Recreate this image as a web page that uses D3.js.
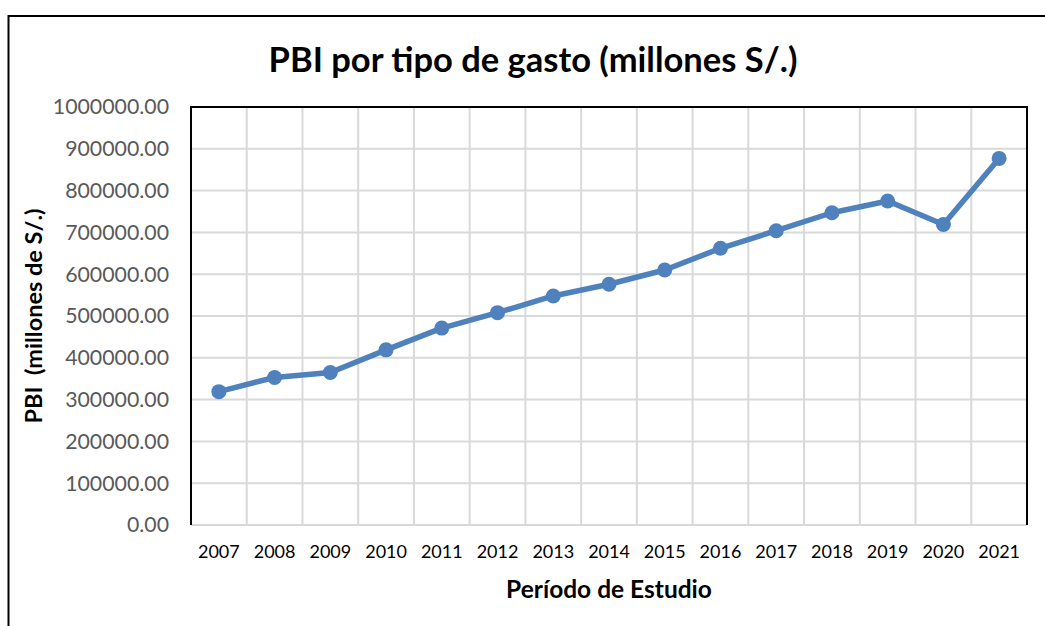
<!DOCTYPE html>
<html>
<head>
<meta charset="utf-8">
<script src="https://cdn.jsdelivr.net/npm/d3@7"></script>
<style>
  html, body { margin: 0; padding: 0; background: #fff; overflow: hidden; }
  text { font-family: Lato, "Open Sans", sans-serif; }
</style>
</head>
<body>
<div id="chart"></div>
<script>
// chart values
var years = ['2007', '2008', '2009', '2010', '2011', '2012', '2013', '2014',
  '2015', '2016', '2017', '2018', '2019', '2020', '2021'];
var pbi = [319000, 353000, 365000, 419000, 471000, 508000, 548000, 576000,
  610000, 662000, 704000, 747000, 775000, 719000, 877000];
var yTicks = [0, 100000, 200000, 300000, 400000, 500000, 600000, 700000, 800000, 900000, 1000000];

var chartTitle = 'PBI por tipo de gasto (millones S/.)';
var yTitle = 'PBI  (millones de S/.)';
var xTitle = 'Período de Estudio';

var width = 1045, height = 626;
var plot = { left: 191, top: 107, right: 1027, bottom: 525 };

var svg = d3.select('#chart').append('svg')
  .attr('width', width)
  .attr('height', height);

// outer chart frame (runs off the right and bottom of the picture)
svg.append('rect')
  .attr('x', 8.5)
  .attr('y', 16)
  .attr('width', width + 20)
  .attr('height', height + 20)
  .attr('fill', '#fff')
  .attr('stroke', '#000')
  .attr('stroke-width', 2);

var x = d3.scaleBand()
  .domain(years)
  .range([plot.left, plot.right]);

var y = d3.scaleLinear()
  .domain([0, 1000000])
  .range([plot.bottom, plot.top]);

var grid = svg.append('g').attr('class', 'grid');

grid.selectAll('line.h')
  .data(yTicks.slice(1))
  .enter().append('line')
  .attr('class', 'h')
  .attr('x1', plot.left)
  .attr('x2', plot.right)
  .attr('y1', function(d) { return y(d); })
  .attr('y2', function(d) { return y(d); })
  .attr('stroke', '#d9d9d9')
  .attr('stroke-width', 2);

grid.selectAll('line.v')
  .data(years.slice(1))
  .enter().append('line')
  .attr('class', 'v')
  .attr('x1', function(d) { return x(d); })
  .attr('x2', function(d) { return x(d); })
  .attr('y1', plot.top)
  .attr('y2', plot.bottom)
  .attr('stroke', '#d9d9d9')
  .attr('stroke-width', 2);

// x axis line (gray) and plot-area frame (black on top, left, right)
svg.append('line')
  .attr('x1', plot.left).attr('x2', plot.right)
  .attr('y1', plot.bottom).attr('y2', plot.bottom)
  .attr('stroke', '#d9d9d9')
  .attr('stroke-width', 2);

svg.append('path')
  .attr('d', 'M' + plot.left + ',' + plot.bottom + 'V' + plot.top + 'H' + plot.right + 'V' + plot.bottom)
  .attr('fill', 'none')
  .attr('stroke', '#000')
  .attr('stroke-width', 2);

// y axis labels
var yAxis = d3.axisLeft(y)
  .tickValues(yTicks)
  .tickSize(0)
  .tickPadding(22)
  .tickFormat(d3.format('.2f'));

svg.append('g')
  .attr('transform', 'translate(' + plot.left + ',0)')
  .call(yAxis)
  .call(function(g) { g.select('.domain').remove(); })
  .selectAll('text')
  .attr('fill', '#595959')
  .attr('font-size', 21.3)
  .attr('font-family', 'Lato, sans-serif');

// x axis labels
var xAxis = d3.axisBottom(x)
  .tickSize(0)
  .tickPadding(20);

svg.append('g')
  .attr('transform', 'translate(0,' + plot.bottom + ')')
  .call(xAxis)
  .call(function(g) { g.select('.domain').remove(); })
  .selectAll('text')
  .attr('fill', '#000')
  .attr('font-size', 18)
  .attr('font-family', 'Lato, sans-serif');

// series
var line = d3.line()
  .x(function(d, i) { return x(years[i]) + x.bandwidth() / 2; })
  .y(function(d) { return y(d); });

svg.append('path')
  .datum(pbi)
  .attr('d', line)
  .attr('fill', 'none')
  .attr('stroke', '#4f81bd')
  .attr('stroke-width', 5.5)
  .attr('stroke-linejoin', 'round');

svg.selectAll('circle.pt')
  .data(pbi)
  .enter().append('circle')
  .attr('class', 'pt')
  .attr('cx', function(d, i) { return x(years[i]) + x.bandwidth() / 2; })
  .attr('cy', function(d) { return y(d); })
  .attr('r', 7.5)
  .attr('fill', '#4f81bd');

// titles
svg.append('text')
  .attr('x', 533)
  .attr('y', 72)
  .attr('text-anchor', 'middle')
  .attr('font-size', 34.5)
  .attr('font-weight', 'bold')
  .attr('fill', '#000')
  .text(chartTitle);

svg.append('text')
  .attr('transform', 'translate(42,' + ((plot.top + plot.bottom) / 2) + ') rotate(-90)')
  .attr('text-anchor', 'middle')
  .attr('font-size', 23.5)
  .attr('font-weight', 'bold')
  .attr('fill', '#000')
  .style('white-space', 'pre')
  .text(yTitle);

svg.append('text')
  .attr('x', (plot.left + plot.right) / 2)
  .attr('y', 598)
  .attr('text-anchor', 'middle')
  .attr('font-size', 24.5)
  .attr('font-weight', 'bold')
  .attr('fill', '#000')
  .text(xTitle);
</script>
</body>
</html>
